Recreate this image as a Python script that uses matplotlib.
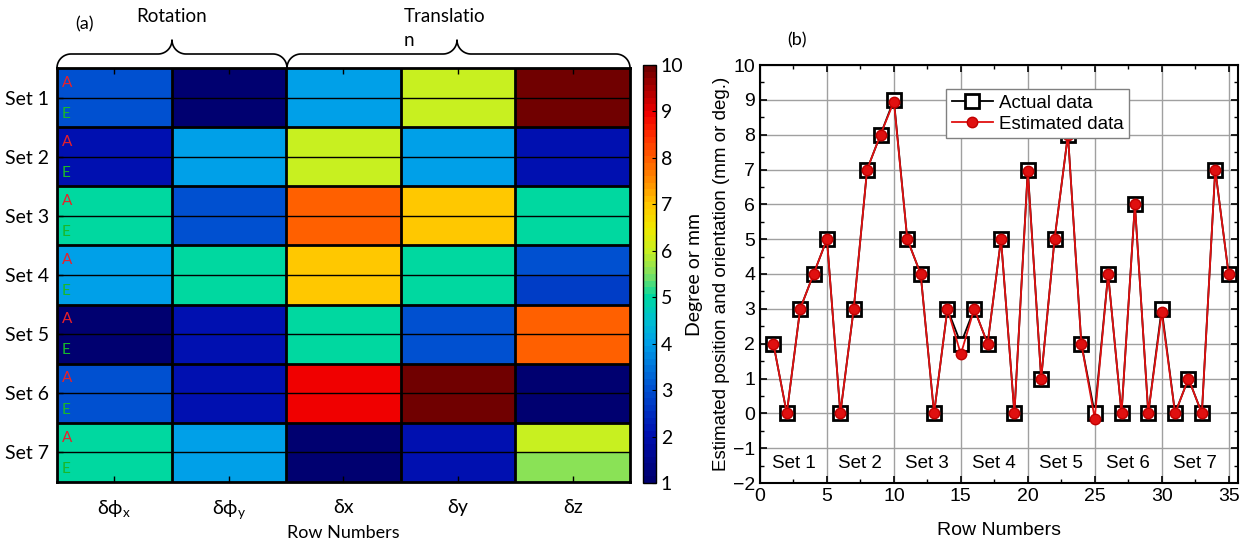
import matplotlib.pyplot as plt
import numpy as np
from matplotlib.colors import LinearSegmentedColormap

sets = ["Set 1", "Set 2", "Set 3", "Set 4", "Set 5", "Set 6", "Set 7"]
params = ["δϕ$_\\mathregular{x}$", "δϕ$_\\mathregular{y}$", "δx", "δy", "δz"]

# heatmap, one A (actual) and one E (estimated) row per set
heat_actual = [[3, 1, 4, 6, 10],
               [2, 4, 6, 4, 2],
               [5, 3, 8, 7, 5],
               [4, 5, 7, 5, 3],
               [1, 2, 5, 3, 8],
               [3, 2, 9, 10, 1],
               [5, 4, 1, 2, 6]]
heat_estimated = [[3, 1, 4, 6, 10],
                  [2, 4, 6, 4, 2],
                  [5, 3, 8, 7, 5],
                  [4, 5, 7, 5, 2.8],
                  [1, 2, 5, 3, 8],
                  [3, 2, 9, 10, 1],
                  [5, 4, 1, 2, 5.6]]

# line plot
rows = list(range(1, 36))
actual = [2, 0, 3, 4, 5, 0, 3, 7, 8, 9, 5, 4, 0, 3, 2, 3, 2, 5, 0, 7,
          1, 5, 8, 2, 0, 4, 0, 6, 0, 3, 0, 1, 0, 7, 4]
estimated = [2, 0, 3, 4, 5, 0, 3, 7, 8, 8.95, 5, 4, 0, 3, 1.7, 3, 2, 5, 0, 6.95,
             1, 5, 8, 2, -0.15, 4, 0, 6, 0, 2.9, 0, 1, 0, 7, 4]

left_font = "Lato"
right_font = "Liberation Sans"
plt.rcParams["font.family"] = [right_font, "DejaVu Sans"]

# jet-like map as printed in the source figure
cmap_colors = ["#000070", "#0010b0", "#0050d0", "#00a0e8", "#00c0d0", "#00d8a0",
               "#80e060", "#c8f020", "#f0e800", "#ffc800", "#ff9000", "#ff6000",
               "#ff3000", "#f00000", "#b00000", "#700000"]
cmap_pos = [1, 2, 3, 4, 4.5, 5, 5.5, 6, 6.5, 7, 7.5, 8, 8.5, 9, 9.5, 10]
cmap = LinearSegmentedColormap.from_list(
    "printjet", [((p - 1) / 9, c) for p, c in zip(cmap_pos, cmap_colors)], N=64)

fig = plt.figure(figsize=(12.52, 5.47), dpi=100)

# ---- (a) heatmap ----
ax = fig.add_axes([57/1252, 65/547, 573/1252, 414/547])
grid = []
for a, e in zip(heat_actual, heat_estimated):
    grid.append(a)
    grid.append(e)
grid = np.array(grid, dtype=float)
im = ax.imshow(grid, cmap=cmap, vmin=1, vmax=10, aspect="auto",
               extent=(0, len(params), len(grid), 0), interpolation="nearest")
for i in range(1, len(sets)):
    ax.axhline(2 * i, color="black", lw=2)
for i in range(len(sets)):
    ax.axhline(2 * i + 1, color="black", lw=1)
for j in range(1, len(params)):
    ax.axvline(j, color="black", lw=2)
for sp in ax.spines.values():
    sp.set_linewidth(2)
for i in range(len(sets)):
    ax.text(0.04, 2 * i + 0.5, "A", color="#e8202a", fontsize=11, va="center", family=left_font)
    ax.text(0.04, 2 * i + 1.55, "E", color="#19b82a", fontsize=11, va="center", family=left_font)
ax.set_yticks([2 * i + 1 for i in range(len(sets))])
ax.set_yticklabels(sets, fontsize=14, family=left_font)
ax.set_xticks([j + 0.5 for j in range(len(params))])
ax.set_xticklabels(params, fontsize=14, family=left_font)
ax.tick_params(direction="in", length=4, width=1, top=True, pad=6)
ax.tick_params(axis="x", pad=12)
ax.set_xlabel("Row Numbers", fontsize=13, family=left_font, labelpad=2)

cax = fig.add_axes([643/1252, 64/547, 13/1252, 418/547])
cb = fig.colorbar(im, cax=cax, ticks=range(1, 11))
cb.outline.set_linewidth(1)
cax.tick_params(labelsize=14, direction="in", length=3)
for t in cax.get_yticklabels():
    t.set_family(left_font)
cax.set_ylabel("Degree or mm", fontsize=14, family=left_font, labelpad=2)

# ---- (b) line plot ----
bx = fig.add_axes([760/1252, 64/547, 478/1252, 418/547])
bx.grid(True, color="#a0a0a0", lw=1)
bx.set_axisbelow(True)
bx.plot(rows, actual, color="black", lw=1.3, marker="s", markersize=9.5,
        markerfacecolor="white", markeredgecolor="black", markeredgewidth=2,
        label="Actual data", zorder=3)
bx.plot(rows, estimated, color="#e01010", lw=1.3, marker="o", markersize=7.5,
        markerfacecolor="#e01010", markeredgecolor="#c00000", markeredgewidth=1,
        label="Estimated data", zorder=4)
bx.set_xlim(0, 35.7)
bx.set_ylim(-2, 10)
bx.set_xticks(range(0, 36, 5))
bx.set_yticks(range(-2, 11))
bx.set_xticks(np.arange(2.5, 36, 5), minor=True)
bx.set_yticks(np.arange(-1.5, 10, 1), minor=True)
bx.tick_params(which="both", direction="in", top=True, right=True, labelsize=14)
bx.tick_params(which="major", length=5, width=1.2)
bx.tick_params(which="minor", length=3, width=1)
for sp in bx.spines.values():
    sp.set_linewidth(1.5)
for k, s in enumerate(sets):
    bx.text(5 * k + 2.5, -1.45, s, ha="center", va="center", fontsize=13.5)
bx.set_xlabel("Row Numbers", fontsize=14, labelpad=12)
bx.set_ylabel("Estimated position and orientation (mm or deg.)", fontsize=13.5, labelpad=2)
leg = bx.legend(loc="upper left", bbox_to_anchor=(0.37, 0.965), fancybox=False,
                edgecolor="#808080", framealpha=1, borderpad=0.3, handlelength=2.2,
                handletextpad=0.3, labelspacing=0.2, fontsize=13.5)
leg.get_frame().set_linewidth(1)

# ---- braces and panel labels ----
ov = fig.add_axes([0, 0, 1, 1], facecolor="none")
ov.set_xlim(0, 1252)
ov.set_ylim(547, 0)
ov.axis("off")


def brace(x0, x1, xm, yb, r=14):
    t = np.linspace(0, np.pi / 2, 20)
    xa = x0 + r - r * np.cos(t)
    ya = yb - r * np.sin(t)
    xb = xm - r + r * np.sin(t)
    yb2 = yb - 2 * r + r * np.cos(t)
    xc = xm + r - r * np.sin(t[::-1])
    yc = yb - 2 * r + r * np.cos(t[::-1])
    xd = x1 - r + r * np.cos(t[::-1])
    yd = yb - r * np.sin(t[::-1])
    ov.plot(np.concatenate([xa, xb, xc, xd]), np.concatenate([ya, yb2, yc, yd]),
            color="black", lw=1.2)


brace(57, 287, 172, 68)
brace(287, 630, 457, 68)
ov.text(172, 17, "Rotation", ha="center", va="center", fontsize=13.5, family=left_font)
ov.text(404, 17, "Translatio", ha="left", va="center", fontsize=13.5, family=left_font)
ov.text(404, 40, "n", ha="left", va="center", fontsize=13.5, family=left_font)
ov.text(84, 24, "(a)", ha="center", va="center", fontsize=13, family=left_font)
ov.text(797, 40, "(b)", ha="center", va="center", fontsize=13, family=left_font)

fig.savefig("out.png", dpi=100)
